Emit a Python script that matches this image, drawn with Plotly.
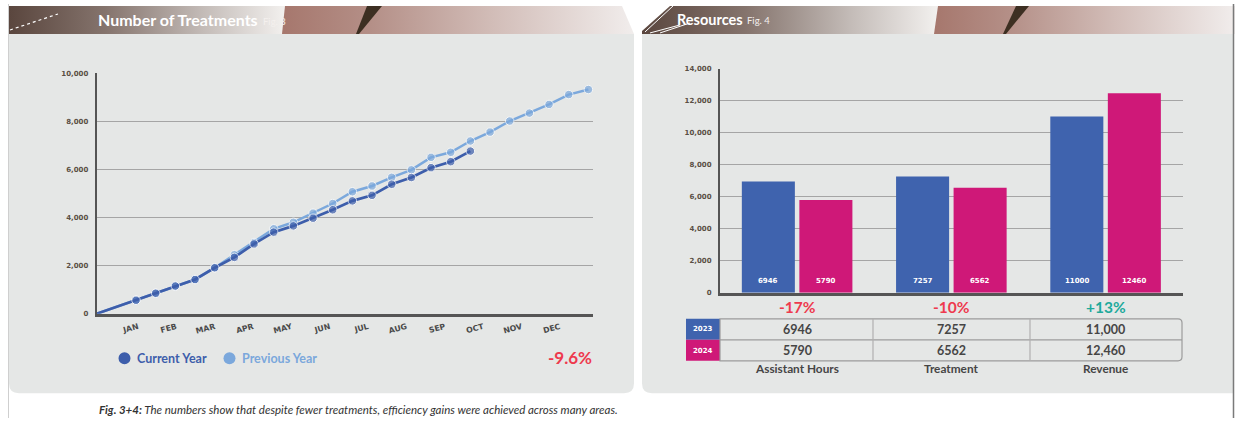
import plotly.graph_objects as go

W, H = 1235, 422

# ---------------- data: Fig. 3 (cumulative treatments, half-month steps) ----------------
months = ["JAN", "FEB", "MAR", "APR", "MAY", "JUN", "JUL", "AUG", "SEP", "OCT", "NOV", "DEC"]
current_step = [0] + list(range(2, 20))
current_year = [0, 560, 850, 1150, 1420, 1910, 2340, 2900, 3390, 3650, 3970,
                4320, 4690, 4920, 5380, 5660, 6070, 6320, 6760]
previous_step = [0] + list(range(2, 26))
previous_year = [0, 560, 850, 1150, 1420, 1910, 2450, 2960, 3530, 3800, 4180,
                 4580, 5070, 5310, 5670, 5980, 6500, 6710, 7180, 7550, 8010,
                 8340, 8700, 9110, 9320]
trend_label = "-9.6%"

# ---------------- data: Fig. 4 (resources) ----------------
resource_cats = ["Assistant Hours", "Treatment", "Revenue"]
years = ["2023", "2024"]
values_2023 = [6946, 7257, 11000]
values_2024 = [5790, 6562, 12460]

caption_bold = "Fig. 3+4:"
caption_text = " The numbers show that despite fewer treatments, efficiency gains were achieved across many areas."

# ---------------- style ----------------
C_CUR = "#3d5eab"
C_PREV = "#7ba8dc"
C_BLUE = "#3f63ae"
C_PINK = "#cf1878"
C_PANEL = "#e5e7e6"
C_GRID = "#a5a5a5"
C_AXIS = "#555555"
C_TXT = "#454545"
C_RED = "#ee3a4e"
C_TEAL = "#1eaa9c"
FONT = "Lato"
TICKFONT = "DejaVu Sans"

# vertical mapping of the photographed page: shown_y = Y_OFF + Y_SCALE * page_y
Y_OFF, Y_SCALE = 3.0, 0.983


def fx(x):
    return x / W


def fy(y):
    return 1 - ((y - Y_OFF) / Y_SCALE) / H


def path(points, close=True):
    s = ""
    for p in points:
        cmd = p[0]
        coords = p[1:]
        parts = []
        for i in range(0, len(coords), 2):
            parts.append(f"{fx(coords[i]):.6f},{fy(coords[i+1]):.6f}")
        s += cmd + " " + " ".join(parts) + " "
    if close:
        s += "Z"
    return s


fig = go.Figure()

# ---------------- header decorations (pixel overlay axes) ----------------
def grad_poly(xs, ys, stops, x0, x1):
    fig.add_trace(go.Scatter(
        x=xs + [xs[0]], y=ys + [ys[0]], xaxis="x3", yaxis="y3",
        mode="lines", line=dict(width=0), fill="toself",
        fillcolor=stops[len(stops) // 2][1],
        fillgradient=dict(type="horizontal", colorscale=stops, start=x0, stop=x1),
        hoverinfo="skip", showlegend=False))


def solid_poly(xs, ys, color):
    fig.add_trace(go.Scatter(
        x=xs + [xs[0]], y=ys + [ys[0]], xaxis="x3", yaxis="y3",
        mode="lines", line=dict(width=0), fill="toself", fillcolor=color,
        hoverinfo="skip", showlegend=False))


dark_stops = [[0, "#5a463e"], [0.35, "#85746d"], [0.7, "#c3bbb7"], [1, "#f3f1ef"]]
salmon_stops = [[0, "#a6776d"], [0.25, "#b48f87"], [0.6, "#d2bdb8"], [1, "#f1edec"]]

grad_poly([9, 286, 283, 9], [5, 5, 33, 33], dark_stops, 9, 286)
grad_poly([285, 622, 634, 282], [5, 5, 33, 33], salmon_stops, 282, 634)
solid_poly([367, 382, 359, 356], [5, 5, 33, 33], "#3d2f22")
grad_poly([670, 939, 935, 642, 642], [5, 5, 33, 33, 30], dark_stops, 642, 939)
grad_poly([938, 1235, 1235, 934], [5, 5, 33, 33], salmon_stops, 934, 1235)
solid_poly([1016, 1029, 1006, 1003], [5, 5, 33, 33], "#3d2f22")

# ---------------- Fig. 3 lines ----------------
fig.add_trace(go.Scatter(
    x=previous_step, y=previous_year, mode="lines+markers", name="Previous Year",
    line=dict(color=C_PREV, width=2.5),
    marker=dict(color=C_PREV, size=[0] + [8.5] * (len(previous_year) - 1)),
    xaxis="x", yaxis="y", showlegend=False, cliponaxis=False))
fig.add_trace(go.Scatter(
    x=current_step, y=current_year, mode="lines+markers", name="Current Year",
    line=dict(color=C_CUR, width=2.7),
    marker=dict(color=C_CUR, size=[0] + [8.5] * (len(current_year) - 1)),
    xaxis="x", yaxis="y", showlegend=False, cliponaxis=False))

# ---------------- Fig. 4 bars ----------------
for yr, vals, col in [(years[0], values_2023, C_BLUE), (years[1], values_2024, C_PINK)]:
    fig.add_trace(go.Bar(
        x=resource_cats, y=vals, name=yr, marker=dict(color=col, line=dict(width=0)),
        xaxis="x2", yaxis="y2", showlegend=False))

# ---------------- shapes ----------------
shapes = []
shapes.append(dict(type="path", xref="paper", yref="paper", layer="below",
                   path=path([("M", 9, 33), ("L", 634, 33), ("L", 634, 383),
                              ("Q", 634, 393, 624, 393), ("L", 19, 393),
                              ("Q", 9, 393, 9, 383)]),
                   fillcolor=C_PANEL, line=dict(width=0)))
shapes.append(dict(type="path", xref="paper", yref="paper", layer="below",
                   path=path([("M", 642, 33), ("L", 1233, 33), ("L", 1233, 393),
                              ("L", 652, 393), ("Q", 642, 393, 642, 383)]),
                   fillcolor=C_PANEL, line=dict(width=0)))
shapes.append(dict(type="line", xref="paper", yref="paper", x0=fx(8.5), x1=fx(8.5),
                   y0=0, y1=1, line=dict(color="#cfcfcf", width=1)))
shapes.append(dict(type="line", xref="paper", yref="paper", x0=fx(1233.5), x1=fx(1233.5),
                   y0=0, y1=1, line=dict(color="#7a7a7a", width=1.5)))
shapes.append(dict(type="line", xref="paper", yref="paper", x0=fx(10), y0=fy(29),
                   x1=fx(58), y1=fy(13), line=dict(color="white", width=1.2, dash="dot")))
shapes.append(dict(type="line", xref="paper", yref="paper", x0=fx(645), y0=fy(31),
                   x1=fx(673), y1=fy(5), line=dict(color="white", width=1)))
shapes.append(dict(type="line", xref="paper", yref="paper", x0=fx(650), y0=fy(32),
                   x1=fx(680), y1=fy(24), line=dict(color="white", width=1)))
shapes.append(dict(type="line", xref="paper", yref="paper", x0=fx(660), y0=fy(32),
                   x1=fx(690), y1=fy(22), line=dict(color="white", width=1)))
for cx, col in [(124.5, C_CUR), (229.5, C_PREV)]:
    shapes.append(dict(type="circle", xref="paper", yref="paper",
                       x0=fx(cx - 6), x1=fx(cx + 6), y0=fy(364), y1=fy(352),
                       fillcolor=col, line=dict(width=0)))
T_L, T_R, T_T, T_M, T_B = 720, 1182, 318.5, 339.5, 360.5
shapes.append(dict(type="rect", xref="paper", yref="paper", x0=fx(686), x1=fx(T_L),
                   y0=fy(T_M), y1=fy(T_T), fillcolor=C_BLUE, line=dict(width=0)))
shapes.append(dict(type="rect", xref="paper", yref="paper", x0=fx(686), x1=fx(T_L),
                   y0=fy(T_B), y1=fy(T_M), fillcolor=C_PINK, line=dict(width=0)))
r = 4
shapes.append(dict(type="path", xref="paper", yref="paper",
                   path=path([("M", T_L, T_T), ("L", T_R - r, T_T), ("Q", T_R, T_T, T_R, T_T + r),
                              ("L", T_R, T_B - r), ("Q", T_R, T_B, T_R - r, T_B),
                              ("L", T_L, T_B)]),
                   fillcolor="rgba(0,0,0,0)", line=dict(color="#9c9c9c", width=1.2)))
shapes.append(dict(type="line", xref="paper", yref="paper", x0=fx(T_L), x1=fx(T_R),
                   y0=fy(T_M), y1=fy(T_M), line=dict(color="#9c9c9c", width=1.2)))
for vx in [873, 1030]:
    shapes.append(dict(type="line", xref="paper", yref="paper", x0=fx(vx), x1=fx(vx),
                       y0=fy(T_T), y1=fy(T_B), line=dict(color="#b0b0b0", width=1.2)))

# ---------------- annotations ----------------
ann = []


def txt(x, y, s, size, color, xanchor="center", family=FONT, xref="paper"):
    ann.append(dict(x=x if xref != "paper" else fx(x), y=fy(y), xref=xref, yref="paper",
                    text=s, showarrow=False, xanchor=xanchor, yanchor="middle",
                    font=dict(family=family, size=size, color=color)))


txt(96, 18.5, "<b>Number of Treatments</b>", 16, "white", "left")
txt(261, 20.5, "Fig. 3", 9.5, "#f4f0ee", "left")
txt(675, 18.5, "<b>Resources</b>", 14.5, "white", "left")
txt(745, 20, "Fig. 4", 9.5, "#f4f0ee", "left")
txt(135, 358, "<b>Current Year</b>", 12.5, C_CUR, "left")
txt(240, 358, "<b>Previous Year</b>", 12.5, C_PREV, "left")
txt(594, 357, f"<b>{trend_label}</b>", 17, C_RED, "right")
for cat, a, b in zip(resource_cats, values_2023, values_2024):
    pct = round((b - a) / a * 100)
    col = C_TEAL if pct > 0 else C_RED
    label = f"+{pct}%" if pct > 0 else f"{pct}%"
    txt(cat, 306.5, f"<b>{label}</b>", 15.5, col, xref="x2")

# bar value labels near the bar base
for vals, shift in [(values_2023, -28.7), (values_2024, 28.7)]:
    for cat, v in zip(resource_cats, vals):
        ann.append(dict(x=cat, y=0, xref="x2", yref="y2", xshift=shift, yshift=12,
                        text=f"<b>{v}</b>", showarrow=False, xanchor="center",
                        yanchor="middle",
                        font=dict(family=TICKFONT, size=7, color="white")))


def fmt(v):
    return f"{v:,}" if v >= 10000 else str(v)


for cat, a, b in zip(resource_cats, values_2023, values_2024):
    txt(cat, 329.5, f"<b>{fmt(a)}</b>", 12.5, C_TXT, xref="x2")
    txt(cat, 350.5, f"<b>{fmt(b)}</b>", 12.5, C_TXT, xref="x2")
    txt(cat, 368, f"<b>{cat}</b>", 11.8, C_TXT, xref="x2")
txt(703, 329, f"<b>{years[0]}</b>", 7, "white", family=TICKFONT)
txt(703, 350.5, f"<b>{years[1]}</b>", 7, "white", family=TICKFONT)
txt(97, 409, f"<b><i>{caption_bold}</i></b><i>{caption_text}</i>", 11.5, "#333333", "left")

# ---------------- layout ----------------
tick_font = dict(family=TICKFONT, size=7, color="#5a4f44", weight="bold")
fig.update_layout(
    width=W, height=H, autosize=False,
    margin=dict(l=0, r=0, t=0, b=0, pad=0),
    paper_bgcolor="white", plot_bgcolor="rgba(0,0,0,0)",
    shapes=shapes, annotations=ann,
    bargap=0.254, bargroupgap=0.078, barmode="group",
    xaxis=dict(domain=[fx(96.7), fx(593.3)], range=[0, 25.25], showgrid=False,
               zeroline=False, showline=True, linecolor=C_AXIS, linewidth=2.5,
               tickmode="array", tickvals=[2.1 + 1.95 * k for k in range(12)],
               ticktext=months, tickangle=-15, ticks="", ticklabelstandoff=3,
               tickfont=dict(family=TICKFONT, size=7.8, color="#4a4a4a", weight="bold"),
               fixedrange=True),
    yaxis=dict(domain=[fy(313.3), fy(72.3)], range=[0, 10000], dtick=2000,
               tickformat=",d", showgrid=True, gridcolor=C_GRID, gridwidth=1.4,
               zeroline=False, showline=True, linecolor=C_AXIS, linewidth=2,
               ticks="", ticklabelstandoff=5, tickfont=tick_font, fixedrange=True),
    xaxis2=dict(domain=[fx(720), fx(1182.7)], type="category", showgrid=False,
                zeroline=False, showline=True, linecolor=C_AXIS, linewidth=2.5,
                showticklabels=False, ticks="", anchor="y2", fixedrange=True),
    yaxis2=dict(domain=[fy(292.3), fy(67.7)], range=[0, 14000], dtick=2000,
                tickformat=",d", showgrid=True, gridcolor=C_GRID, gridwidth=1.4,
                zeroline=False, showline=True, linecolor=C_AXIS, linewidth=2,
                ticks="", ticklabelstandoff=5, tickfont=tick_font, anchor="x2",
                fixedrange=True),
    xaxis3=dict(domain=[0, 1], range=[0, W], visible=False, anchor="y3", fixedrange=True),
    yaxis3=dict(domain=[0, 1], range=[Y_OFF + Y_SCALE * H, Y_OFF], visible=False,
                anchor="x3", fixedrange=True),
)

fig.write_html("out.html", config={"displayModeBar": False},
               post_script="document.body.style.margin='0px';document.body.style.overflow='hidden';")
